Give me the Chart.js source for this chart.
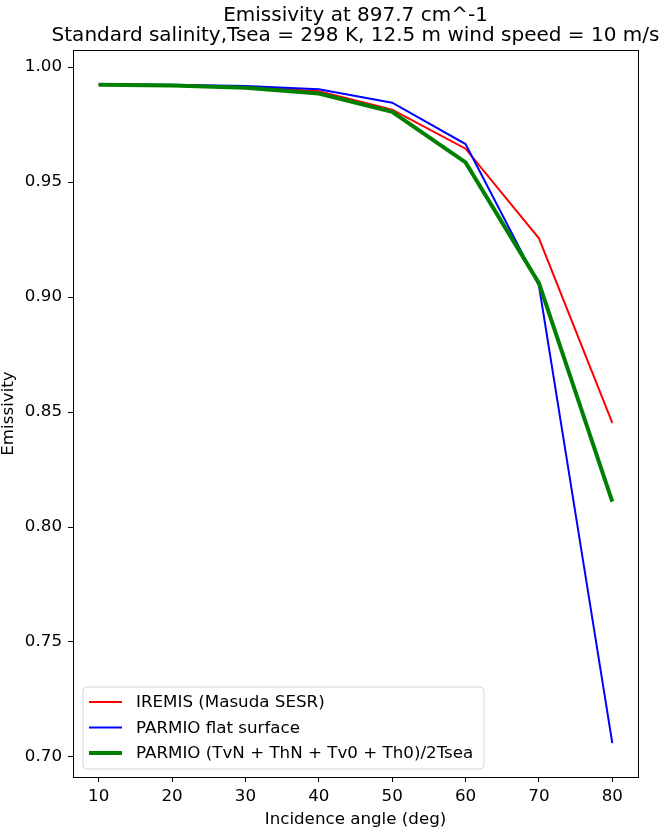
<!DOCTYPE html>
<html>
<head>
<meta charset="utf-8">
<script src="https://cdn.jsdelivr.net/npm/chart.js@4/dist/chart.umd.min.js"></script>
<style>
html,body{margin:0;padding:0;background:#fff;}
#wrap{width:659px;height:830px;position:relative;}
</style>
</head>
<body>
<div id="wrap"><canvas id="c" width="659" height="830"></canvas></div>
<script>
const angles = [10, 20, 30, 40, 50, 60, 70, 80];
const iremis = [0.9923, 0.9921, 0.9913, 0.9895, 0.9815, 0.9645, 0.9255, 0.8453];
const parmioFlat = [0.9925, 0.9923, 0.9917, 0.9903, 0.9845, 0.9665, 0.9050, 0.7060];
const parmioAvg = [0.9923, 0.9920, 0.9910, 0.9885, 0.9805, 0.9585, 0.9060, 0.8110];
const seriesLabels = ["IREMIS (Masuda SESR)", "PARMIO flat surface", "PARMIO (TvN + ThN + Tv0 + Th0)/2Tsea"];
const xTicks = [10, 20, 30, 40, 50, 60, 70, 80];
const yTicks = [0.70, 0.75, 0.80, 0.85, 0.90, 0.95, 1.00];
const titleLines = ["Emissivity at 897.7 cm^-1", "Standard salinity,Tsea = 298 K, 12.5 m wind speed = 10 m/s"];
const xTitle = "Incidence angle (deg)";
const yTitle = "Emissivity";

const FONT = '"DejaVu Sans", sans-serif';
const FS = 16.7;

const decor = {
  id: 'decor',
  afterDatasetsDraw(chart) {
    const {ctx, chartArea: a} = chart;
    ctx.save();
    ctx.strokeStyle = '#000';
    ctx.lineWidth = 1;
    ctx.strokeRect(Math.round(a.left) + 0.5, Math.round(a.top) + 0.5, Math.round(a.right - a.left), Math.round(a.bottom - a.top));
    ctx.restore();
  },
  afterDraw(chart) {
    const {ctx, chartArea: a} = chart;
    const cx = (a.left + a.right) / 2;
    ctx.save();
    ctx.fillStyle = '#000';
    ctx.textAlign = 'center';
    ctx.textBaseline = 'alphabetic';
    ctx.font = '20px ' + FONT;
    ctx.fillText(titleLines[0], cx, 20.5);
    ctx.fillText(titleLines[1], cx, 40.5);
    ctx.font = FS + 'px ' + FONT;
    ctx.fillText(xTitle, cx, 824);
    ctx.save();
    ctx.translate(9, (a.top + a.bottom) / 2);
    ctx.rotate(-Math.PI / 2);
    ctx.textBaseline = 'middle';
    ctx.fillText(yTitle, 0, 0);
    ctx.restore();

    // legend
    const bx = 83, by = 687, bw = 401, bh = 82, r = 4;
    ctx.beginPath();
    ctx.moveTo(bx + r, by);
    ctx.arcTo(bx + bw, by, bx + bw, by + bh, r);
    ctx.arcTo(bx + bw, by + bh, bx, by + bh, r);
    ctx.arcTo(bx, by + bh, bx, by, r);
    ctx.arcTo(bx, by, bx + bw, by, r);
    ctx.closePath();
    ctx.fillStyle = 'rgba(255,255,255,0.8)';
    ctx.fill();
    ctx.strokeStyle = '#d6d6d6';
    ctx.lineWidth = 1;
    ctx.stroke();
    const rows = [702, 727.5, 753];
    chart.data.datasets.forEach((ds, i) => {
      ctx.beginPath();
      ctx.moveTo(89, rows[i]);
      ctx.lineTo(122, rows[i]);
      ctx.strokeStyle = ds.borderColor;
      ctx.lineWidth = ds.borderWidth;
      ctx.stroke();
      ctx.fillStyle = '#000';
      ctx.textAlign = 'left';
      ctx.textBaseline = 'middle';
      ctx.font = FS + 'px ' + FONT;
      ctx.fillText(ds.label, 136, rows[i] + 1);
    });
    ctx.restore();
  }
};

const pts = arr => angles.map((a, i) => ({x: a, y: arr[i]}));

new Chart(document.getElementById('c'), {
  type: 'line',
  data: {
    datasets: [
      {label: seriesLabels[0], data: pts(iremis), borderColor: '#ff0000', borderWidth: 2, pointRadius: 0, tension: 0, fill: false, order: 3},
      {label: seriesLabels[1], data: pts(parmioFlat), borderColor: '#0000ff', borderWidth: 2, pointRadius: 0, tension: 0, fill: false, order: 2},
      {label: seriesLabels[2], data: pts(parmioAvg), borderColor: '#008000', borderWidth: 4, pointRadius: 0, tension: 0, fill: false, order: 1}
    ]
  },
  options: {
    responsive: false,
    animation: false,
    devicePixelRatio: 1,
    layout: {padding: {left: 0, top: 50, right: 21, bottom: 0}},
    plugins: {legend: {display: false}, tooltip: {enabled: false}, title: {display: false}},
    scales: {
      x: {
        type: 'linear',
        min: 6.5, max: 83.5,
        afterBuildTicks: s => { s.ticks = xTicks.map(v => ({value: v})); },
        afterFit: s => { s.height = 53; },
        grid: {display: true, drawOnChartArea: false, drawTicks: true, tickLength: 5, color: '#000', tickColor: '#000'},
        border: {display: true, color: '#000'},
        ticks: {color: '#000', font: {family: FONT, size: FS}, padding: 5, maxRotation: 0, callback: v => String(v)}
      },
      y: {
        type: 'linear',
        min: 0.6913, max: 1.0074,
        afterBuildTicks: s => { s.ticks = yTicks.map(v => ({value: v})); },
        afterFit: s => { s.width = 73; },
        grid: {display: true, drawOnChartArea: false, drawTicks: true, tickLength: 5, color: '#000', tickColor: '#000'},
        border: {display: true, color: '#000'},
        ticks: {color: '#000', font: {family: FONT, size: FS}, padding: 6, callback: v => Number(v).toFixed(2)}
      }
    }
  },
  plugins: [decor]
});
</script>
</body>
</html>
